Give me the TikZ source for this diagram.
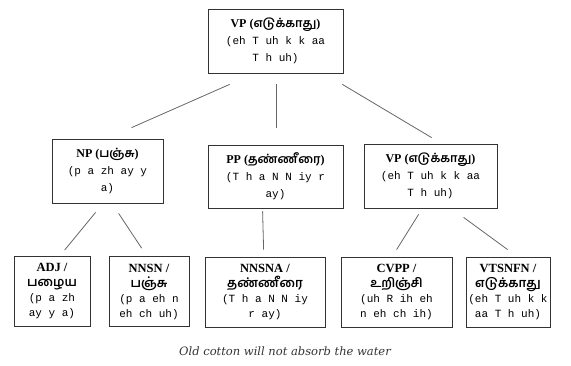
\documentclass[tikz,border=0pt]{standalone}
\usepackage{fontspec}
\setmainfont{Liberation Serif}
\setmonofont{Liberation Mono}
\newfontfamily\tamilfont[Script=Tamil]{Hind Madurai}
\newfontfamily\capfont{DejaVu Serif}
\usetikzlibrary{calc}

\newcommand{\ta}[1]{{\tamilfont\bfseries #1}}
\newcommand{\tabig}[1]{{\tamilfont\bfseries\fontsize{12.5}{15}\selectfont #1}}
\newcommand{\hd}[1]{{\bfseries\fontsize{12}{17}\selectfont #1}}
\newcommand{\hdlow}[1]{{\bfseries\fontsize{12.5}{15}\selectfont #1}}
\newcommand{\ph}[1]{{\ttfamily #1}}

\begin{document}
\begin{tikzpicture}[x=1pt,y=-1pt,
  box/.style={draw=black!80, line width=0.8pt, inner sep=0pt, align=center,
    font=\fontsize{11}{17}\selectfont},
  lowbox/.style={box, minimum height=70pt, font=\fontsize{11}{15}\selectfont},
  link/.style={draw=black!60, line width=0.8pt}]
\useasboundingbox (0,0) rectangle (571,365);
% top row
\node[box, minimum width=135pt, minimum height=64pt] (vp) at (275.5,41)
  {\hd{VP (\ta{எடுக்காது})}\\\ph{(eh T uh k k aa}\\\ph{T h uh)}};
% middle row
\node[box, minimum width=111pt, minimum height=64pt] (np) at (107.5,171)
  {\hd{NP (\ta{பஞ்சு})}\\\ph{(p a zh ay y}\\\ph{a)}};
\node[box, minimum width=135pt, minimum height=63pt] (pp) at (275.5,176.5)
  {\hd{PP (\ta{தண்ணீரை})}\\\ph{(T h a N N iy r}\\\ph{ay)}};
\node[box, minimum width=133pt, minimum height=64pt] (vpr) at (430.5,176)
  {\hd{VP (\ta{எடுக்காது})}\\\ph{(eh T uh k k aa}\\\ph{T h uh)}};
% bottom row
\node[lowbox, minimum width=76pt] (adj) at (52,291.5)
  {\hdlow{ADJ /}\\\tabig{பழைய}\\\ph{(p a zh}\\\ph{ay y a)}};
\node[lowbox, minimum width=80pt] (nnsn) at (149,291.5)
  {\hdlow{NNSN /}\\\tabig{பஞ்சு}\\\ph{(p a eh n}\\\ph{eh ch uh)}};
\node[lowbox, minimum width=120pt] (nnsna) at (265,292)
  {\hdlow{NNSNA /}\\\tabig{தண்ணீரை}\\\ph{(T h a N N iy}\\\ph{r ay)}};
\node[lowbox, minimum width=111pt] (cvpp) at (396.5,292)
  {\hdlow{CVPP /}\\\tabig{உறிஞ்சி}\\\ph{(uh R ih eh}\\\ph{n eh ch ih)}};
\node[lowbox, minimum width=84pt] (vtsnfn) at (508,292)
  {\hdlow{VTSNFN /}\\\tabig{எடுக்காது}\\\ph{(eh T uh k k}\\\ph{aa T h uh)}};
\node[font=\capfont\itshape\fontsize{11.5}{13}\selectfont, text=black!80] (cap) at (285,351)
  {Old cotton will not absorb the water};
% connectors
\draw[link] ($(vp.south west)+(22,11)$) -- ($(np.north west)+(80,-11)$);
\draw[link] ($(vp.south)+(0.5,11)$) -- ($(pp.north)+(0.5,-17)$);
\draw[link] ($(vp.south east)+(-1,11)$) -- ($(vpr.north west)+(68,-6)$);
\draw[link] ($(np.south west)+(44,9)$) -- ($(adj.north west)+(51,-6)$);
\draw[link] ($(np.south west)+(67,10)$) -- ($(nnsn.north west)+(33,-8)$);
\draw[link] ($(pp.south west)+(55,3)$) -- ($(nnsna.north west)+(59,-7)$);
\draw[link] ($(vpr.south west)+(55,6)$) -- ($(cvpp.north west)+(56,-7)$);
\draw[link] ($(vpr.south west)+(100,9)$) -- ($(vtsnfn.north west)+(42,-7)$);
\end{tikzpicture}
\end{document}
